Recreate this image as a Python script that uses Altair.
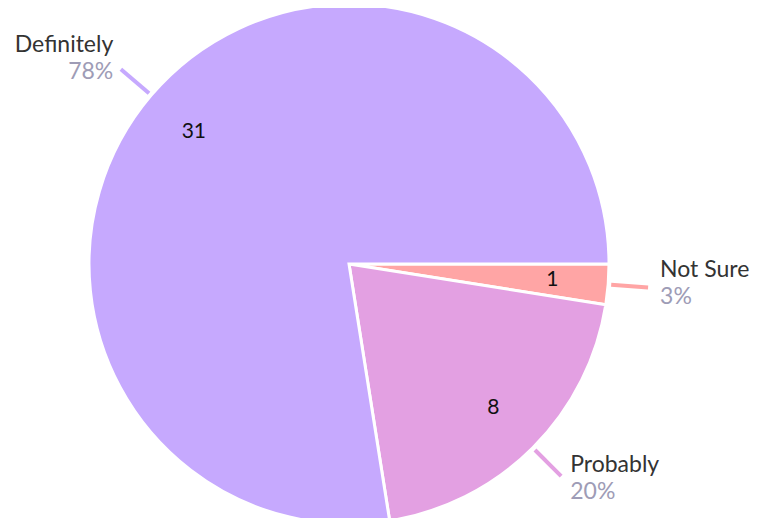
import altair as alt
import pandas as pd

categories = ["Not Sure", "Probably", "Definitely"]
counts = [1, 8, 31]
colors = ["#FFA5A5", "#E3A0E2", "#C6A9FE"]

df = pd.DataFrame({"cat": categories, "value": counts, "idx": list(range(len(categories)))})

CX, CY = 341, 256
FONT = "Lato"

base = alt.Chart(df).transform_joinaggregate(
    total="sum(value)"
).transform_window(
    cum="sum(value)", sort=[alt.SortField("idx")]
).transform_calculate(
    mid="(datum.cum - datum.value/2)/datum.total*2*PI + PI/2",
    pct="round(datum.value/datum.total*100) + '%'",
)

color = alt.Color("cat:N", scale=alt.Scale(domain=categories, range=colors), legend=None)

pie = alt.Chart(df).mark_arc(stroke="white", strokeWidth=3).encode(
    theta=alt.Theta("value:Q", stack=True, scale=alt.Scale(range=[1.5707963, 7.8539816])),
    order=alt.Order("idx:Q"),
    color=color,
    x=alt.value(CX), y=alt.value(CY), radius=alt.value(260),
)

inner = alt.Chart(df).mark_text(font=FONT, fontSize=21, color="#111111").encode(
    theta=alt.Theta("value:Q", stack=True, scale=alt.Scale(range=[1.5707963, 7.8539816])),
    order=alt.Order("idx:Q"),
    text="value:Q",
    x=alt.value(CX), y=alt.value(CY), radius=alt.value(204),
)

leaders = base.transform_calculate(
    x1=f"{CX} + 263*sin(datum.mid)", y1=f"{CY} - 263*cos(datum.mid)",
    x2=f"{CX} + 300*sin(datum.mid)", y2=f"{CY} - 300*cos(datum.mid)",
).mark_rule(strokeWidth=4).encode(
    x=alt.X("x1:Q", scale=None), y=alt.Y("y1:Q", scale=None),
    x2="x2:Q", y2="y2:Q", color=color,
)

lab = base.transform_calculate(
    lx=f"{CX} + 310*sin(datum.mid)", ly=f"{CY} - 310*cos(datum.mid)",
    side="sin(datum.mid) >= 0 ? 'r' : 'l'",
)

def labels(side, align, dx):
    s = lab.transform_filter(alt.datum.side == side)
    name = s.mark_text(font=FONT, fontSize=23, color="#333333", align=align, dx=dx, dy=-11,
                       baseline="alphabetic").encode(
        x=alt.X("lx:Q", scale=None), y=alt.Y("ly:Q", scale=None), text="cat:N")
    pc = s.mark_text(font=FONT, fontSize=23, color="#9E9CB6", align=align, dx=dx, dy=-2,
                     baseline="top").encode(
        x=alt.X("lx:Q", scale=None), y=alt.Y("ly:Q", scale=None), text="pct:N")
    return name + pc

chart = alt.layer(pie, inner, leaders, labels("r", "left", 2), labels("l", "right", 0)).properties(
    width=749, height=510, padding=0, autosize="none"
).configure_view(stroke=None)

chart.save("out.html", embed_options={"renderer": "svg", "actions": False})
